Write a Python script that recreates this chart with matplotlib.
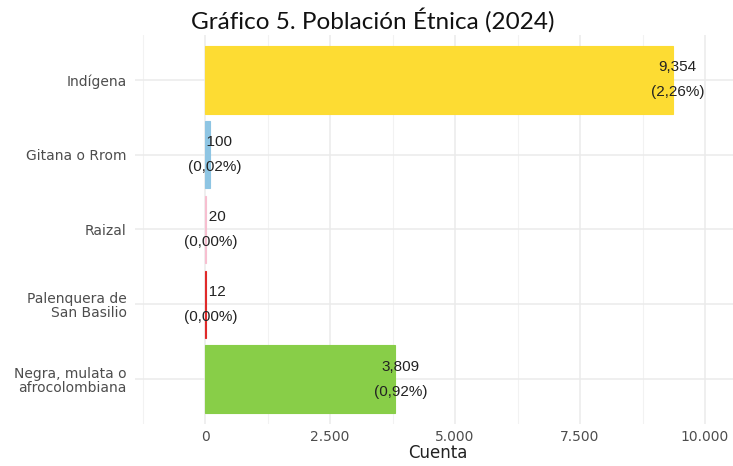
import matplotlib
matplotlib.use("Agg")
import matplotlib.pyplot as plt
from matplotlib.ticker import FixedLocator, FuncFormatter

categories = ["Indígena", "Gitana o Rrom", "Raizal",
              "Palenquera de\nSan Basilio", "Negra, mulata o\nafrocolombiana"]
counts = [9354, 100, 20, 12, 3809]
percents = [2.26, 0.02, 0.00, 0.00, 0.92]
colors = ["#FDDC33", "#8EC5E3", "#F7BFD0", "#E02A2A", "#88CE48"]
xticks = [0, 2500, 5000, 7500, 10000]
xminor = [-1250, 1250, 3750, 6250, 8750]

fig = plt.figure(figsize=(7.33, 4.66), dpi=100)
ax = fig.add_axes([135 / 733, 42 / 466, 598 / 733, 389 / 466])

ypos = list(range(len(categories), 0, -1))
ax.barh(ypos, counts, height=0.9, color=colors, edgecolor=colors, linewidth=0.8,
        zorder=2)

ax.set_xlim(-1400, 10560)
ax.set_ylim(0.4, len(categories) + 0.6)

ax.xaxis.set_major_locator(FixedLocator(xticks))
ax.xaxis.set_minor_locator(FixedLocator(xminor))
ax.xaxis.set_major_formatter(FuncFormatter(lambda v, p: f"{int(v):,}".replace(",", ".")))
ax.set_yticks(ypos)
ax.set_yticklabels(categories, linespacing=1.05)

for s in ax.spines.values():
    s.set_visible(False)
ax.tick_params(axis="both", which="both", length=0)
ax.tick_params(axis="y", pad=6, labelsize=10, labelcolor="#4D4D4D")
ax.tick_params(axis="x", pad=4, labelsize=10, labelcolor="#4D4D4D")
for lab in ax.get_xticklabels() + ax.get_yticklabels():
    lab.set_family("DejaVu Sans")

ax.grid(which="major", color="#EBEBEB", lw=1.1, zorder=0)
ax.grid(which="minor", axis="x", color="#F2F2F2", lw=0.8, zorder=0)
ax.set_axisbelow(True)

for y, v, p in zip(ypos, counts, percents):
    num = f"{v:,}".rjust(5)
    pct = "(" + f"{p:.2f}".replace(".", ",") + "%)"
    ax.annotate(num, xy=(v, y), xytext=(3.6, 9), textcoords="offset points",
                ha="center", va="center", fontsize=11, color="#222222",
                family="Liberation Sans", zorder=3)
    ax.annotate(pct, xy=(v, y), xytext=(3.6, -9), textcoords="offset points",
                ha="center", va="center", fontsize=11, color="#222222",
                family="Liberation Sans", zorder=3)

fig.text(373 / 733, 1 - 20 / 466, "Gráfico 5. Población Étnica (2024)",
         ha="center", va="center", fontsize=17.5, family="Lato", color="#111111")
fig.text(438 / 733, 1 - 453 / 466, "Cuenta", ha="center", va="center",
         fontsize=12, family="DejaVu Sans", color="#222222")

fig.savefig("out.png", dpi=100)
